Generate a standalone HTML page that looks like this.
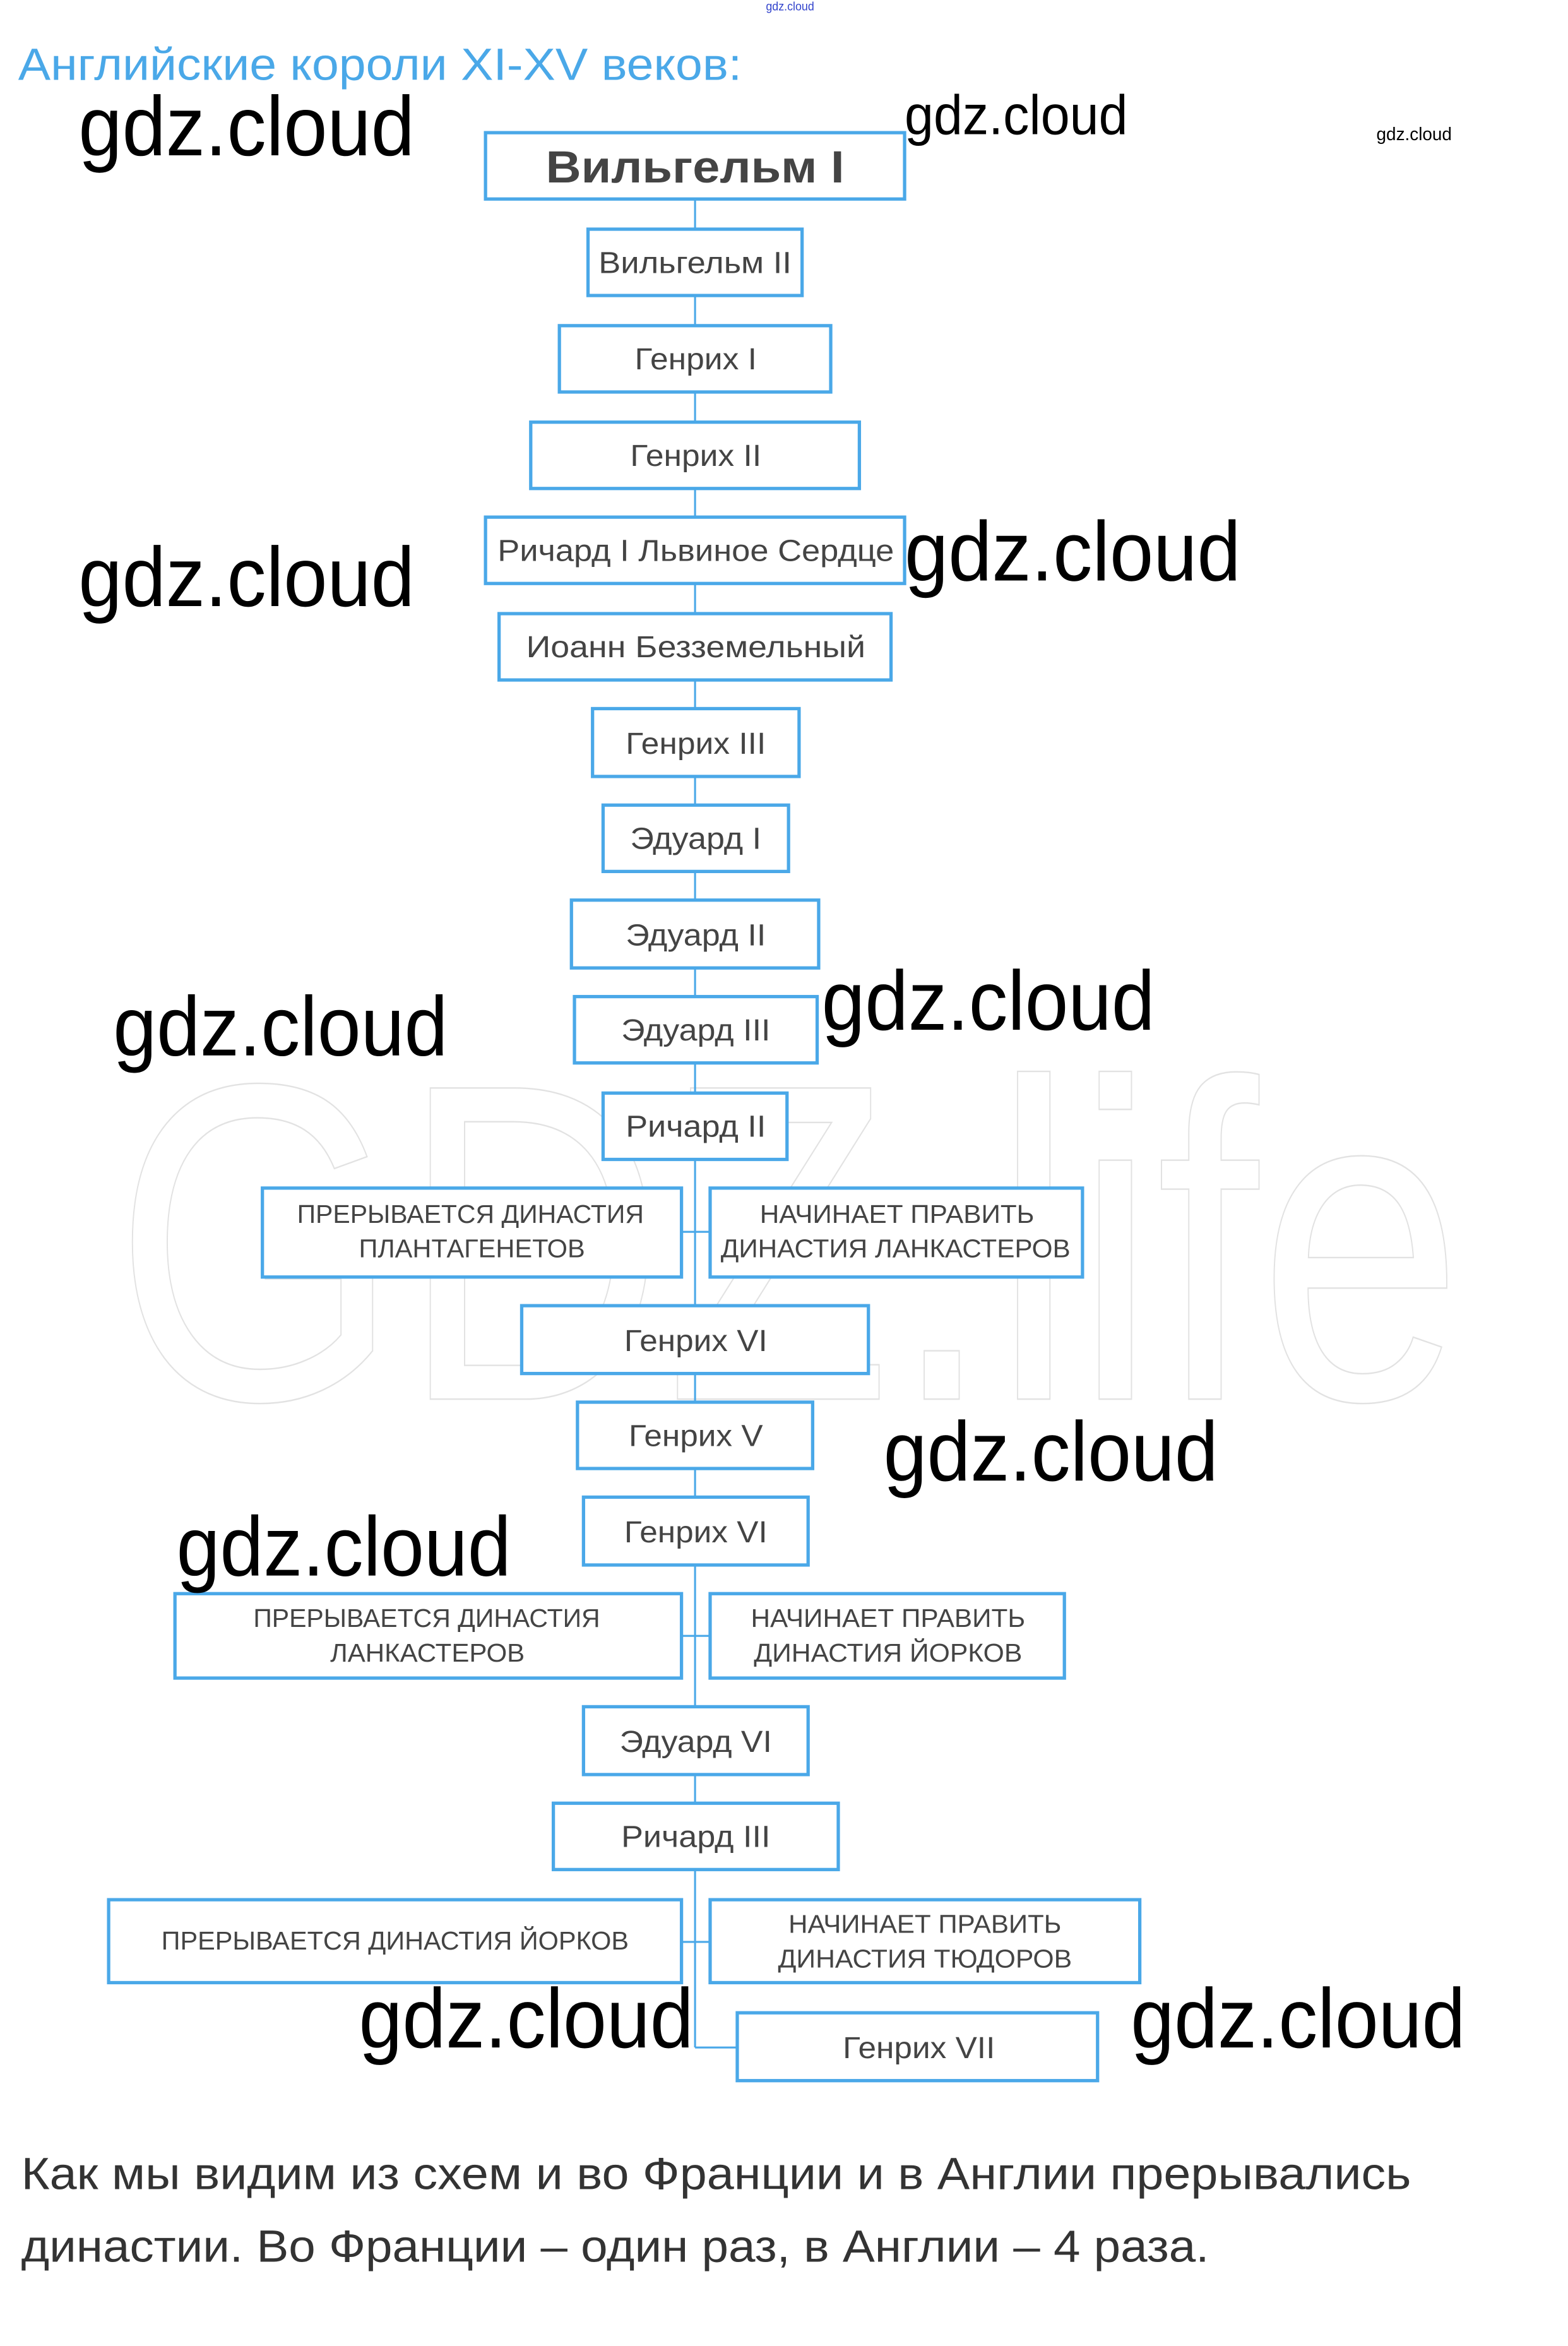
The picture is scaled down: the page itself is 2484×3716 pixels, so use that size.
<!DOCTYPE html>
<html><head><meta charset="utf-8"><style>
html,body{margin:0;padding:0;background:#fff;}
svg{display:block;}
text{font-family:"Liberation Sans","Noto Sans CJK SC",sans-serif;}
</style></head><body>
<svg width="2484" height="3716" viewBox="0 0 1040 1556" xmlns="http://www.w3.org/2000/svg">
<text x="700" y="560" font-size="300" fill="none" stroke="#e2e2e2" stroke-width="1" text-anchor="middle" transform="translate(-177,368)" textLength="895" lengthAdjust="spacingAndGlyphs">GDZ.life</text>
<text x="508" y="7" font-size="8" fill="#3344cc" textLength="32" lengthAdjust="spacingAndGlyphs">gdz.cloud</text>
<text x="12" y="53" font-size="30" fill="#4aa8e8" textLength="480" lengthAdjust="spacingAndGlyphs">Английские короли XI-XV веков:</text>
<g stroke="#4aa8e8" stroke-width="1.3" fill="none">
<line x1="461" y1="132" x2="461" y2="1358"/>
<line x1="461" y1="1358" x2="489" y2="1358"/>
<line x1="452" y1="817" x2="471" y2="817"/>
<line x1="452" y1="1085" x2="471" y2="1085"/>
<line x1="452" y1="1288" x2="471" y2="1288"/>
</g>
<g stroke="#4aa8e8" stroke-width="2.2" fill="#fff">
<rect x="322" y="88" width="278" height="44"/>
<rect x="390" y="152" width="142" height="44"/>
<rect x="371" y="216" width="180" height="44"/>
<rect x="352" y="280" width="218" height="44"/>
<rect x="322" y="343" width="278" height="44"/>
<rect x="331" y="407" width="260" height="44"/>
<rect x="393" y="470" width="137" height="45"/>
<rect x="400" y="534" width="123" height="44"/>
<rect x="379" y="597" width="164" height="45"/>
<rect x="381" y="661" width="161" height="44"/>
<rect x="400" y="725" width="122" height="44"/>
<rect x="174" y="788" width="278" height="59"/>
<rect x="471" y="788" width="247" height="59"/>
<rect x="346" y="866" width="230" height="45"/>
<rect x="383" y="930" width="156" height="44"/>
<rect x="387" y="993" width="149" height="45"/>
<rect x="116" y="1057" width="336" height="56"/>
<rect x="471" y="1057" width="235" height="56"/>
<rect x="387" y="1132" width="149" height="45"/>
<rect x="367" y="1196" width="189" height="44"/>
<rect x="72" y="1260" width="380" height="55"/>
<rect x="471" y="1260" width="285" height="55"/>
<rect x="489" y="1335" width="239" height="45"/>
</g>
<g fill="#444" font-size="20" lengthAdjust="spacingAndGlyphs">
<text x="362" y="121" font-size="30" font-weight="bold" textLength="198" lengthAdjust="spacingAndGlyphs">Вильгельм I</text>
<text x="397" y="181" textLength="128" lengthAdjust="spacingAndGlyphs">Вильгельм II</text>
<text x="421" y="245" textLength="81" lengthAdjust="spacingAndGlyphs">Генрих I</text>
<text x="418" y="309" textLength="87" lengthAdjust="spacingAndGlyphs">Генрих II</text>
<text x="330" y="372" textLength="263" lengthAdjust="spacingAndGlyphs">Ричард I Львиное Сердце</text>
<text x="349" y="436" textLength="225" lengthAdjust="spacingAndGlyphs">Иоанн Безземельный</text>
<text x="415" y="500" textLength="93" lengthAdjust="spacingAndGlyphs">Генрих III</text>
<text x="418" y="563" textLength="87" lengthAdjust="spacingAndGlyphs">Эдуард I</text>
<text x="415" y="627" textLength="93" lengthAdjust="spacingAndGlyphs">Эдуард II</text>
<text x="412" y="690" textLength="99" lengthAdjust="spacingAndGlyphs">Эдуард III</text>
<text x="415" y="754" textLength="93" lengthAdjust="spacingAndGlyphs">Ричард II</text>
<text x="414" y="896" textLength="95" lengthAdjust="spacingAndGlyphs">Генрих VI</text>
<text x="417" y="959" textLength="89" lengthAdjust="spacingAndGlyphs">Генрих V</text>
<text x="414" y="1023" textLength="95" lengthAdjust="spacingAndGlyphs">Генрих VI</text>
<text x="411" y="1162" textLength="101" lengthAdjust="spacingAndGlyphs">Эдуард VI</text>
<text x="412" y="1225" textLength="99" lengthAdjust="spacingAndGlyphs">Ричард III</text>
<text x="559" y="1365" textLength="101" lengthAdjust="spacingAndGlyphs">Генрих VII</text>
</g>
<g fill="#444" font-size="17">
<text x="197" y="811" textLength="230" lengthAdjust="spacingAndGlyphs">ПРЕРЫВАЕТСЯ ДИНАСТИЯ</text>
<text x="238" y="834" textLength="150" lengthAdjust="spacingAndGlyphs">ПЛАНТАГЕНЕТОВ</text>
<text x="504" y="811" textLength="182" lengthAdjust="spacingAndGlyphs">НАЧИНАЕТ ПРАВИТЬ</text>
<text x="478" y="834" textLength="232" lengthAdjust="spacingAndGlyphs">ДИНАСТИЯ ЛАНКАСТЕРОВ</text>
<text x="168" y="1079" textLength="230" lengthAdjust="spacingAndGlyphs">ПРЕРЫВАЕТСЯ ДИНАСТИЯ</text>
<text x="219" y="1102" textLength="129" lengthAdjust="spacingAndGlyphs">ЛАНКАСТЕРОВ</text>
<text x="498" y="1079" textLength="182" lengthAdjust="spacingAndGlyphs">НАЧИНАЕТ ПРАВИТЬ</text>
<text x="500" y="1102" textLength="178" lengthAdjust="spacingAndGlyphs">ДИНАСТИЯ ЙОРКОВ</text>
<text x="107" y="1293" textLength="310" lengthAdjust="spacingAndGlyphs">ПРЕРЫВАЕТСЯ ДИНАСТИЯ ЙОРКОВ</text>
<text x="523" y="1282" textLength="181" lengthAdjust="spacingAndGlyphs">НАЧИНАЕТ ПРАВИТЬ</text>
<text x="516" y="1305" textLength="195" lengthAdjust="spacingAndGlyphs">ДИНАСТИЯ ТЮДОРОВ</text>
</g>
<g fill="#000" font-size="56">
<text x="52" y="103" textLength="223" lengthAdjust="spacingAndGlyphs">gdz.cloud</text>
<text x="600" y="89" font-size="37" textLength="148" lengthAdjust="spacingAndGlyphs">gdz.cloud</text>
<text x="913" y="93" font-size="12" textLength="50" lengthAdjust="spacingAndGlyphs">gdz.cloud</text>
<text x="52" y="402" textLength="223" lengthAdjust="spacingAndGlyphs">gdz.cloud</text>
<text x="600" y="385" textLength="223" lengthAdjust="spacingAndGlyphs">gdz.cloud</text>
<text x="75" y="700" textLength="222" lengthAdjust="spacingAndGlyphs">gdz.cloud</text>
<text x="545" y="683" textLength="221" lengthAdjust="spacingAndGlyphs">gdz.cloud</text>
<text x="586" y="982" textLength="222" lengthAdjust="spacingAndGlyphs">gdz.cloud</text>
<text x="117" y="1045" textLength="222" lengthAdjust="spacingAndGlyphs">gdz.cloud</text>
<text x="238" y="1358" textLength="222" lengthAdjust="spacingAndGlyphs">gdz.cloud</text>
<text x="750" y="1358" textLength="222" lengthAdjust="spacingAndGlyphs">gdz.cloud</text>
</g>
<g fill="#333" font-size="30">
<text x="14" y="1452" textLength="922" lengthAdjust="spacingAndGlyphs">Как мы видим из схем и во Франции и в Англии прерывались</text>
<text x="14" y="1500" textLength="788" lengthAdjust="spacingAndGlyphs">династии. Во Франции – один раз, в Англии – 4 раза.</text>
</g>
</svg>
</body></html>
